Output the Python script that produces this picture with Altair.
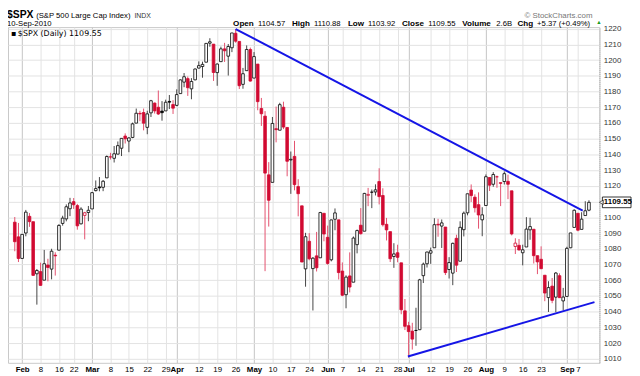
import altair as alt
import pandas as pd

# ---------------- data (S&P 500 daily, 28-Jan-2010 .. 10-Sep-2010) ----------------
dates = ["Jan 28", "Jan 29",
         "Feb 1", "Feb 2", "Feb 3", "Feb 4", "Feb 5", "Feb 8", "Feb 9", "Feb 10", "Feb 11", "Feb 12",
         "Feb 16", "Feb 17", "Feb 18", "Feb 19", "Feb 22", "Feb 23", "Feb 24", "Feb 25", "Feb 26",
         "Mar 1", "Mar 2", "Mar 3", "Mar 4", "Mar 5", "Mar 8", "Mar 9", "Mar 10", "Mar 11", "Mar 12",
         "Mar 15", "Mar 16", "Mar 17", "Mar 18", "Mar 19", "Mar 22", "Mar 23", "Mar 24", "Mar 25", "Mar 26",
         "Mar 29", "Mar 30", "Mar 31",
         "Apr 1", "Apr 5", "Apr 6", "Apr 7", "Apr 8", "Apr 9", "Apr 12", "Apr 13", "Apr 14", "Apr 15", "Apr 16",
         "Apr 19", "Apr 20", "Apr 21", "Apr 22", "Apr 23", "Apr 26", "Apr 27", "Apr 28", "Apr 29", "Apr 30",
         "May 3", "May 4", "May 5", "May 6", "May 7", "May 10", "May 11", "May 12", "May 13", "May 14",
         "May 17", "May 18", "May 19", "May 20", "May 21", "May 24", "May 25", "May 26", "May 27", "May 28",
         "Jun 1", "Jun 2", "Jun 3", "Jun 4", "Jun 7", "Jun 8", "Jun 9", "Jun 10", "Jun 11",
         "Jun 14", "Jun 15", "Jun 16", "Jun 17", "Jun 18", "Jun 21", "Jun 22", "Jun 23", "Jun 24", "Jun 25",
         "Jun 28", "Jun 29", "Jun 30",
         "Jul 1", "Jul 2", "Jul 6", "Jul 7", "Jul 8", "Jul 9", "Jul 12", "Jul 13", "Jul 14", "Jul 15", "Jul 16",
         "Jul 19", "Jul 20", "Jul 21", "Jul 22", "Jul 23", "Jul 26", "Jul 27", "Jul 28", "Jul 29", "Jul 30",
         "Aug 2", "Aug 3", "Aug 4", "Aug 5", "Aug 6", "Aug 9", "Aug 10", "Aug 11", "Aug 12", "Aug 13",
         "Aug 16", "Aug 17", "Aug 18", "Aug 19", "Aug 20", "Aug 23", "Aug 24", "Aug 25", "Aug 26", "Aug 27",
         "Aug 30", "Aug 31",
         "Sep 1", "Sep 2", "Sep 3", "Sep 7", "Sep 8", "Sep 9", "Sep 10"]

opens = [1096.93, 1087.61,
         1073.89, 1090.05, 1100.67, 1097.25, 1064.12, 1065.51, 1060.06, 1069.68, 1067.10, 1075.95,
         1079.13, 1096.14, 1099.03, 1105.49, 1110.00, 1107.49, 1095.89, 1101.24, 1103.10,
         1105.36, 1117.01, 1119.36, 1119.12, 1125.12, 1138.40, 1137.56, 1140.22, 1143.96, 1151.71,
         1148.53, 1150.83, 1159.94, 1166.13, 1166.68, 1157.25, 1166.47, 1172.70, 1170.03, 1167.58,
         1167.71, 1173.75, 1171.75,
         1171.23, 1178.71, 1186.01, 1188.23, 1181.75, 1187.47, 1194.94, 1195.94, 1198.69, 1210.77, 1210.17,
         1192.06, 1199.04, 1207.16, 1202.52, 1207.87, 1217.07, 1211.92, 1184.59, 1193.30, 1206.77,
         1188.58, 1197.50, 1169.24, 1164.38, 1127.04, 1122.27, 1156.39, 1155.43, 1170.04, 1157.19,
         1136.52, 1138.78, 1119.57, 1107.34, 1067.26, 1084.78, 1067.42, 1075.51, 1074.27, 1102.59,
         1087.30, 1073.01, 1098.82, 1098.43, 1065.84, 1050.81, 1062.75, 1058.77, 1082.65,
         1095.00, 1091.21, 1114.02, 1115.98, 1116.16, 1122.79, 1113.90, 1095.57, 1090.93, 1075.10,
         1077.50, 1071.10, 1040.56,
         1031.10, 1027.65, 1028.09, 1028.54, 1062.92, 1070.50, 1077.23, 1080.65, 1095.61, 1094.46, 1093.85,
         1066.85, 1064.53, 1086.67, 1072.14, 1092.17, 1102.89, 1117.36, 1112.84, 1108.07, 1098.44,
         1107.53, 1125.34, 1121.06, 1125.78, 1122.07, 1122.80, 1122.92, 1116.89, 1081.48, 1082.22,
         1077.49, 1081.16, 1092.08, 1092.44, 1075.63, 1073.36, 1063.20, 1048.98, 1056.28, 1049.27,
         1062.90, 1046.88,
         1049.72, 1080.66, 1093.61, 1102.60, 1092.36, 1101.15, 1104.57]

highs = [1100.22, 1096.45,
         1089.38, 1104.73, 1102.72, 1097.25, 1067.13, 1071.20, 1079.28, 1073.67, 1080.04, 1077.81,
         1095.67, 1101.03, 1108.24, 1112.42, 1112.29, 1108.58, 1106.42, 1103.50, 1107.24,
         1116.11, 1123.46, 1125.64, 1123.73, 1139.38, 1141.05, 1145.37, 1148.26, 1150.24, 1153.41,
         1150.98, 1160.28, 1169.20, 1167.77, 1169.20, 1167.82, 1174.72, 1173.04, 1180.69, 1173.93,
         1174.85, 1177.83, 1174.56,
         1181.43, 1187.73, 1191.80, 1189.60, 1188.55, 1194.66, 1199.20, 1199.04, 1210.65, 1213.92, 1210.17,
         1197.87, 1208.58, 1210.99, 1210.27, 1217.28, 1219.80, 1211.92, 1195.05, 1209.36, 1207.99,
         1205.13, 1197.50, 1175.95, 1167.58, 1135.13, 1163.85, 1170.48, 1172.87, 1173.57, 1157.19,
         1141.88, 1148.66, 1124.27, 1107.34, 1090.16, 1089.95, 1074.75, 1090.75, 1103.52, 1102.59,
         1094.77, 1098.56, 1105.67, 1098.43, 1071.36, 1063.15, 1077.74, 1087.85, 1092.25,
         1105.91, 1115.59, 1118.74, 1117.72, 1121.01, 1131.23, 1118.50, 1099.64, 1090.93, 1083.56,
         1082.60, 1071.10, 1048.08,
         1033.58, 1032.95, 1042.50, 1060.89, 1071.25, 1078.16, 1080.78, 1099.46, 1099.08, 1098.66, 1093.85,
         1074.70, 1083.94, 1088.96, 1097.50, 1103.73, 1115.01, 1120.95, 1114.66, 1115.90, 1106.44,
         1127.30, 1125.44, 1128.75, 1126.56, 1122.07, 1129.24, 1127.16, 1116.89, 1086.72, 1086.25,
         1082.62, 1100.14, 1099.77, 1092.44, 1075.63, 1081.58, 1063.20, 1059.38, 1061.45, 1065.21,
         1064.40, 1055.14,
         1081.30, 1090.10, 1105.10, 1102.60, 1103.26, 1110.27, 1110.88]

lows = [1078.46, 1071.59,
        1073.89, 1087.96, 1093.97, 1062.78, 1044.50, 1056.51, 1060.06, 1059.34, 1060.59, 1062.97,
        1079.13, 1094.72, 1097.48, 1100.80, 1105.38, 1092.18, 1095.50, 1086.02, 1097.56,
        1105.36, 1116.51, 1116.58, 1116.66, 1125.12, 1136.77, 1134.90, 1140.09, 1138.99, 1146.97,
        1141.45, 1150.35, 1159.94, 1161.16, 1155.33, 1152.88, 1163.83, 1166.01, 1165.09, 1161.48,
        1167.71, 1168.92, 1165.77,
        1170.69, 1178.71, 1182.77, 1177.25, 1175.12, 1187.15, 1194.71, 1188.82, 1198.69, 1208.50, 1186.77,
        1183.68, 1199.04, 1198.85, 1190.19, 1205.10, 1211.07, 1181.62, 1181.81, 1193.30, 1186.32,
        1188.58, 1168.12, 1158.15, 1065.79, 1094.15, 1122.27, 1147.71, 1155.43, 1156.14, 1126.14,
        1114.96, 1117.20, 1100.66, 1071.58, 1055.90, 1072.70, 1040.78, 1065.59, 1074.27, 1084.78,
        1069.89, 1072.03, 1091.81, 1060.50, 1049.86, 1042.17, 1052.25, 1058.77, 1077.12,
        1089.03, 1091.21, 1107.13, 1105.87, 1113.93, 1108.24, 1094.18, 1085.31, 1071.60, 1067.89,
        1071.45, 1038.38, 1028.33,
        1010.91, 1015.93, 1018.35, 1028.54, 1058.24, 1068.10, 1070.45, 1080.65, 1087.68, 1080.53, 1063.32,
        1061.11, 1056.88, 1065.25, 1072.14, 1087.88, 1101.30, 1109.78, 1103.11, 1092.82, 1088.01,
        1107.53, 1116.76, 1119.46, 1118.81, 1107.17, 1120.91, 1111.58, 1088.55, 1076.69, 1079.00,
        1069.49, 1081.16, 1085.76, 1070.66, 1063.91, 1067.08, 1046.68, 1039.83, 1045.40, 1039.70,
        1048.79, 1040.88,
        1049.72, 1080.39, 1093.61, 1091.15, 1092.36, 1101.15, 1103.92]

closes = [1084.53, 1073.87,
          1089.19, 1103.32, 1097.28, 1063.11, 1066.19, 1056.74, 1070.52, 1068.13, 1078.47, 1075.51,
          1094.87, 1099.51, 1106.75, 1109.17, 1108.01, 1094.60, 1105.24, 1102.93, 1104.49,
          1115.71, 1118.31, 1118.79, 1122.97, 1138.70, 1138.50, 1140.45, 1145.61, 1150.24, 1149.99,
          1150.51, 1159.46, 1166.21, 1165.83, 1159.90, 1165.81, 1174.17, 1167.72, 1165.73, 1166.59,
          1173.22, 1173.27, 1169.43,
          1178.10, 1187.44, 1189.44, 1182.45, 1186.44, 1194.37, 1196.48, 1197.30, 1210.65, 1211.67, 1192.13,
          1197.52, 1207.17, 1205.94, 1208.67, 1217.28, 1212.05, 1183.71, 1191.36, 1206.78, 1186.69,
          1202.26, 1173.60, 1165.90, 1128.15, 1110.88, 1159.73, 1155.79, 1171.67, 1157.44, 1135.68,
          1136.94, 1120.80, 1115.05, 1071.59, 1087.69, 1073.65, 1074.03, 1067.95, 1103.06, 1089.41,
          1070.71, 1098.38, 1102.83, 1064.88, 1050.47, 1062.00, 1055.69, 1086.84, 1091.60,
          1089.63, 1115.23, 1114.61, 1116.04, 1117.51, 1113.20, 1095.31, 1092.04, 1073.69, 1076.76,
          1074.57, 1041.24, 1030.71,
          1027.37, 1022.58, 1028.06, 1060.27, 1070.25, 1077.96, 1078.75, 1095.34, 1095.17, 1096.48, 1064.88,
          1071.25, 1083.48, 1069.59, 1093.67, 1102.66, 1115.01, 1113.84, 1106.13, 1101.53, 1101.60,
          1125.86, 1120.46, 1127.24, 1125.81, 1121.64, 1127.79, 1121.06, 1089.47, 1083.61, 1079.25,
          1079.38, 1092.54, 1094.16, 1075.63, 1071.69, 1067.36, 1051.87, 1055.33, 1047.22, 1064.59,
          1048.92, 1049.33,
          1080.29, 1090.10, 1104.51, 1091.84, 1098.87, 1104.18, 1109.55]

prior_close = 1097.50  # close of 27-Jan-2010

# x-axis ticks (trading-day index) and their labels
tick_idx = [2, 7, 12, 16, 21, 26, 31, 36, 41, 44, 50, 55, 60, 65, 70, 75, 80,
            85, 89, 94, 99, 104, 107, 113, 118, 123, 128, 133, 138, 143, 150, 153]
tick_labels = ["Feb", "8", "16", "22", "Mar", "8", "15", "22", "29", "Apr", "12", "19", "26",
               "May", "10", "17", "24", "Jun", "7", "14", "21", "28", "Jul", "12", "19", "26",
               "Aug", "9", "16", "23", "Sep", "7"]
month_idx = [2, 21, 44, 65, 85, 107, 128, 150]
price_ticks = list(range(1010, 1221, 10))
hidden_price_label = 1110  # covered by the last-price tag

# trendlines (trading-day index, price)
upper_line_x = [60, 154.3]
upper_line_y = [1219.8, 1104.3]
lower_line_x = [106.8, 157.5]
lower_line_y = [1011.5, 1046.1]

# header quote
quote_labels = ["Open", "High", "Low", "Close", "Volume", "Chg"]
quote_values = ["1104.57", "1110.88", "1103.92", "1109.55", "2.6B", "+5.37 (+0.49%)"]

# ---------------- build tables ----------------
RED = "#d10a32"
n = len(closes)
prev = [prior_close] + closes[:-1]
fills, strokes, wicks = [], [], []
for o, c, p in zip(opens, closes, prev):
    col = RED if c < p else "#000000"
    strokes.append(col)
    wicks.append("#e4506e" if c < p else "#444444")
    fills.append(col if c < o else "#ffffff")

df = pd.DataFrame({"i": list(range(n)), "date": dates, "open": opens, "high": highs,
                   "low": lows, "close": closes, "fill": fills, "stroke": strokes, "wick": wicks})

tl = pd.DataFrame({"i": upper_line_x + lower_line_x,
                   "p": upper_line_y + lower_line_y,
                   "g": ["u", "u", "l", "l"]})

W, H = 599, 340
ticks_js = "[" + ",".join(str(v) for v in tick_idx) + "]"
labels_js = "[" + ",".join("'%s'" % s for s in tick_labels) + "]"
months_js = "[" + ",".join(str(v) for v in month_idx) + "]"

xscale = alt.Scale(domain=[-0.5, 157.5], nice=False, zero=False)
yscale = alt.Scale(domain=[1007.5, 1221.0], nice=False, zero=False)

xaxis = alt.Axis(values=tick_idx, labelExpr=f"{labels_js}[indexof({ticks_js}, datum.value)]",
                 title=None, grid=True,
                 gridColor={"condition": {"test": f"indexof({months_js}, datum.value) >= 0", "value": "#c4c4c4"},
                            "value": "#e3e3e3"},
                 labelFontWeight={"condition": {"test": f"indexof({months_js}, datum.value) >= 0", "value": "bold"},
                                  "value": "normal"},
                 labelFontSize=8, labelColor="#000", labelFont="Liberation Sans", labelPadding=3,
                 ticks=False, domain=False, labelOverlap=False, labelFlush=False, labelBound=False)
yaxis = alt.Axis(orient="right", values=price_ticks, title=None, grid=True, gridColor="#e3e3e3",
                 labelExpr=f"datum.value == {hidden_price_label} ? '' : format(datum.value, 'd')",
                 labelFontSize=8, labelColor="#333", labelFont="Liberation Sans", labelPadding=4,
                 ticks=False, domainColor="#aaaaaa", domainDash=[1, 1], labelOverlap=False,
                 labelFlush=False, labelBound=False)


def X(field):
    return alt.X(f"{field}:Q", scale=xscale, axis=xaxis)


def Y(field):
    return alt.Y(f"{field}:Q", scale=yscale, axis=yaxis)


base = alt.Chart(df)
wick_layer = base.mark_rule(strokeWidth=1).encode(
    x=X("i"), y=Y("low"), y2="high", color=alt.Color("wick:N", scale=None))
body_layer = base.mark_bar(size=2.7, strokeWidth=0.8).encode(
    x=X("i"), y=Y("open"), y2="close",
    fill=alt.Fill("fill:N", scale=None), stroke=alt.Stroke("stroke:N", scale=None))
trend_layer = alt.Chart(tl).mark_line(color="#1515e6", strokeWidth=2).encode(
    x=X("i"), y=Y("p"), detail="g:N")

last = pd.DataFrame({"v": [closes[-1]], "t": ["%.2f" % closes[-1]]})
last_box = alt.Chart(last).transform_calculate(
    top="datum.v + 3.4", bot="datum.v - 3.4").mark_rect(
    fill="white", stroke="#000", strokeWidth=0.8).encode(
    x=alt.value(W + 3), x2=alt.value(W + 32), y=Y("top"), y2="bot")
last_ptr = alt.Chart(last).mark_point(shape="triangle-left", filled=True, fill="white",
                                      stroke="#000", strokeWidth=0.8, size=22).encode(
    x=alt.value(W + 2), y=Y("v"))
last_txt = alt.Chart(last).mark_text(align="left", baseline="middle", fontSize=8, fontWeight="bold",
                                     font="Liberation Sans", color="#000").encode(
    x=alt.value(W + 4.5), y=Y("v"), text="t:N")

one = pd.DataFrame({"a": [0]})


def label(txt, x, y, size=8, weight="normal", color="#000", align="left", font="Liberation Sans"):
    return alt.Chart(one).mark_text(align=align, baseline="alphabetic", fontSize=size,
                                    fontWeight=weight, color=color, font=font).encode(
        x=alt.value(x), y=alt.value(y), text=alt.value(txt))


# approximate Arial advance widths (em) used to lay the quote line out
BOLD_W = {"O": .778, "p": .611, "e": .556, "n": .611, "H": .722, "i": .278, "g": .611, "h": .611,
          "L": .611, "o": .611, "w": .778, "C": .722, "l": .278, "s": .556, "V": .667, "u": .611,
          "m": .889}
REG_W = {".": .278, " ": .278, "+": .584, "(": .333, ")": .333, "%": .889, "B": .667}


def text_w(s, table, size):
    return sum(table.get(ch, .556) for ch in s) * size * 1.06


header = [
    label("$SPX", -1, -9, size=10.5, weight="bold"),
    label("(S&P 500 Large Cap Index)", 28.5, -9, size=7.8),
    label("INDX", 128, -9, size=7, color="#333"),
    label("\u00a9 StockCharts.com", 592, -9, size=8, color="#777", align="right"),
    label("10-Sep-2010", -1, -1, size=7.8),
]
qx = 228.0
for lab, val in zip(quote_labels, quote_values):
    header.append(label(lab, qx, -1, size=8.2, weight="bold"))
    qx += text_w(lab, BOLD_W, 8.2) + 3
    header.append(label(val, qx, -1, size=7.8))
    qx += text_w(val, REG_W, 7.8) + 4.5
header.append(label("\u25b2", qx - 1.5, -3, size=5.5, color="#1a9a1a"))
header.append(label("$SPX (Daily) 1109.55", 10, 9, size=8, font="DejaVu Sans"))
header.append(label("\u25aa", 3, 9, size=8, font="DejaVu Sans"))

chart = alt.layer(wick_layer, body_layer, trend_layer, last_box, last_ptr, last_txt, *header).properties(
    width=W, height=H, autosize=alt.AutoSizeParams(type="none"),
    padding={"left": 0, "top": 17, "right": 33, "bottom": 11},
    background="white",
).configure_view(stroke="#c8c8c8", strokeWidth=1)

chart.save("out.html", embed_options={"renderer": "svg", "actions": False})
